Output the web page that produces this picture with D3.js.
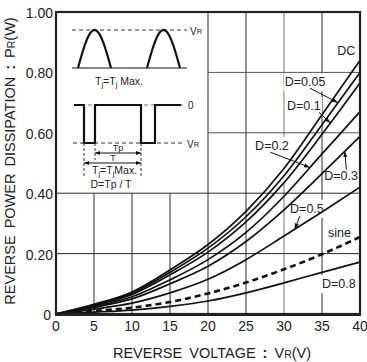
<!DOCTYPE html>
<html>
<head>
<meta charset="utf-8">
<script src="https://cdn.jsdelivr.net/npm/d3@7"></script>
<style>
  html, body { margin: 0; padding: 0; background: #fff; }
  svg { display: block; font-family: "Liberation Sans", Arial, Helvetica, sans-serif; }
</style>
</head>
<body>
<svg id="chart" width="367" height="362"></svg>
<script>
// Reverse voltage samples (V)
const voltages = [0, 5, 10, 15, 20, 25, 30, 35, 40];

// Reverse power dissipation PR (W) for each waveform
const pDC   = [0, 0.032, 0.073, 0.146, 0.230, 0.340, 0.482, 0.660, 0.840];
const pD005 = [0, 0.030, 0.069, 0.138, 0.218, 0.322, 0.458, 0.627, 0.800];
const pD01  = [0, 0.028, 0.065, 0.130, 0.205, 0.305, 0.435, 0.595, 0.765];
const pD02  = [0, 0.025, 0.057, 0.113, 0.180, 0.270, 0.390, 0.530, 0.670];
const pD03  = [0, 0.022, 0.050, 0.100, 0.158, 0.240, 0.345, 0.465, 0.588];
const pD05  = [0, 0.016, 0.036, 0.070, 0.115, 0.180, 0.258, 0.338, 0.420];
const pSine = [0, 0.010, 0.021, 0.040, 0.068, 0.104, 0.148, 0.198, 0.255];
const pD08  = [0, 0.006, 0.013, 0.025, 0.043, 0.070, 0.103, 0.138, 0.172];

const seriesNames  = ["DC", "D=0.05", "D=0.1", "D=0.2", "D=0.3", "D=0.5", "sine", "D=0.8"];
const seriesValues = [pDC, pD005, pD01, pD02, pD03, pD05, pSine, pD08];

// Axis ticks
const xTicks = [0, 5, 10, 15, 20, 25, 30, 35, 40];
const yTicks = [0, 0.2, 0.4, 0.6, 0.8, 1.0];
const yTickLabels = ["0", "0.20", "0.40", "0.60", "0.80", "1.00"];

// Curve labels: label anchor (V, W) and optional leader arrow ending on the curve at voltage "to"
const curveLabels = [
  { name: "DC",     v: 37.0, p: 0.871 },
  { name: "D=0.05", v: 30.1, p: 0.768, from: [33.4, 0.748], to: 37.1 },
  { name: "D=0.1",  v: 30.4, p: 0.689, from: [34.6, 0.668], to: 36.1 },
  { name: "D=0.2",  v: 26.2, p: 0.556, from: [28.2, 0.536], to: 33.4 },
  { name: "D=0.3",  v: 35.3, p: 0.457, from: [38.2, 0.478], to: 38.0 },
  { name: "D=0.5",  v: 30.8, p: 0.348, from: [32.1, 0.325], to: 31.4 },
  { name: "sine",   v: 35.8, p: 0.268 },
  { name: "D=0.8",  v: 35.0, p: 0.099 }
];

// Region kept clear of grid lines for the waveform sketch
const sketchVmax = 20, sketchPmin = 0.4;
// Breaks in vertical grid lines (voltage, from W, to W)
const gridBreaks = [{ v: 30, lo: 0.435, hi: 0.585 }];

const svg = d3.select("#chart");
const x = d3.scaleLinear().domain([0, 40]).range([56, 360]);
const y = d3.scaleLinear().domain([0, 1]).range([314, 12]);

// Grid
const grid = svg.append("g").attr("stroke-width", 1).attr("fill", "none");
xTicks.filter(v => v > 0 && v < 40).forEach(v => {
  const top = v < sketchVmax ? sketchPmin : 1;
  const brk = gridBreaks.find(b => b.v === v);
  const spans = brk ? [[0, brk.lo], [brk.hi, top]] : [[0, top]];
  spans.forEach(([a, b]) => {
    grid.append("line")
      .attr("x1", x(v)).attr("x2", x(v))
      .attr("y1", y(a)).attr("y2", y(b))
      .attr("stroke", v === 30 ? "#777" : "#2a2a2a");
  });
});
yTicks.filter(p => p > 0 && p < 1).forEach(p => {
  grid.append("line")
    .attr("x1", x(p > sketchPmin ? sketchVmax : 0)).attr("x2", x(40))
    .attr("y1", y(p)).attr("y2", y(p))
    .attr("stroke", p > sketchPmin ? "#555" : "#2a2a2a");
});

// Curve labels (white backing hides grid lines behind the text)
const labelG = svg.append("g").attr("font-size", 12.5).attr("fill", "#222");
const labelNodes = curveLabels.map(d => labelG.append("text")
  .attr("x", x(d.v)).attr("y", y(d.p))
  .attr("dominant-baseline", "central")
  .text(d.name));
labelNodes.forEach(t => {
  const b = t.node().getBBox();
  labelG.insert("rect", "text")
    .attr("x", b.x - 1).attr("y", b.y - 2)
    .attr("width", b.width + 2).attr("height", b.height + 4)
    .attr("fill", "#fff");
});

// Curves
const line = d3.line()
  .x((d, i) => x(voltages[i]))
  .y(d => y(d))
  .curve(d3.curveMonotoneX);

const curveG = svg.append("g").attr("fill", "none").attr("stroke", "#111");
seriesValues.forEach((vals, k) => {
  const isSine = seriesNames[k] === "sine";
  curveG.append("path")
    .attr("d", line(vals))
    .attr("stroke-width", isSine ? 2.6 : 1.7)
    .attr("stroke-dasharray", isSine ? "6,4" : null);
});

// Leader arrows
const defs = svg.append("defs");
defs.append("marker")
  .attr("id", "head").attr("viewBox", "0 0 10 10")
  .attr("refX", 10).attr("refY", 5)
  .attr("markerWidth", 6).attr("markerHeight", 6)
  .attr("orient", "auto")
  .append("path").attr("d", "M0,1.5 L10,5 L0,8.5 Z").attr("fill", "#111");

function valueAt(vals, v) {
  const i = Math.min(voltages.length - 2, Math.floor(v / 5));
  const t = (v - voltages[i]) / 5;
  return vals[i] + (vals[i + 1] - vals[i]) * t;
}
curveLabels.filter(d => d.from).forEach(d => {
  const vals = seriesValues[seriesNames.indexOf(d.name)];
  svg.append("line")
    .attr("x1", x(d.from[0])).attr("y1", y(d.from[1]))
    .attr("x2", x(d.to)).attr("y2", y(valueAt(vals, d.to)))
    .attr("stroke", "#111").attr("stroke-width", 1)
    .attr("marker-end", "url(#head)");
});

// Frame
const frame = svg.append("g").attr("stroke", "#222").attr("fill", "none");
frame.append("rect").attr("x", x(0)).attr("y", y(1))
  .attr("width", x(40) - x(0)).attr("height", y(0) - y(1))
  .attr("stroke-width", 2.2);
frame.append("line").attr("x1", x(0) - 1).attr("x2", x(40) + 1)
  .attr("y1", y(0) + 0.5).attr("y2", y(0) + 0.5).attr("stroke-width", 3);

// Tick labels
const tickG = svg.append("g").attr("font-size", 14).attr("fill", "#222");
tickG.selectAll("text.xt").data(xTicks).join("text")
  .attr("x", d => x(d)).attr("y", y(0) + 17)
  .attr("text-anchor", "middle")
  .text(d => d);
tickG.selectAll("text.yt").data(yTicks).join("text")
  .attr("x", (d, i) => i === 0 ? 51 : 53).attr("y", d => y(d) + 1)
  .attr("text-anchor", "end").attr("dominant-baseline", "central")
  .text((d, i) => yTickLabels[i]);

// Axis titles
const xt = svg.append("text").attr("x", 212).attr("y", 358)
  .attr("text-anchor", "middle").attr("font-size", 14.5).attr("fill", "#222")
  .attr("word-spacing", 3);
xt.append("tspan").text("REVERSE VOLTAGE ");
xt.append("tspan").attr("font-weight", "bold").text(":");
xt.append("tspan").text(" V");
xt.append("tspan").attr("font-size", 10.5).text("R");
xt.append("tspan").text("(V)");

const yt = svg.append("text")
  .attr("transform", "translate(15,161) rotate(-90)")
  .attr("text-anchor", "middle").attr("font-size", 14.5).attr("fill", "#222")
  .attr("word-spacing", 3);
yt.append("tspan").text("REVERSE POWER DISSIPATION ");
yt.append("tspan").attr("font-weight", "bold").text(":");
yt.append("tspan").text(" P");
yt.append("tspan").attr("font-size", 10.5).text("R");
yt.append("tspan").text("(W)");

// Waveform sketch (top-left corner of the plot)
const sk = svg.append("g").attr("fill", "none").attr("stroke", "#111");
const dash = "4,3";
// half-sine pulses
sk.append("line").attr("x1", 72).attr("x2", 187).attr("y1", 30).attr("y2", 30)
  .attr("stroke-width", 1).attr("stroke-dasharray", dash).attr("stroke", "#333");
sk.append("line").attr("x1", 72).attr("x2", 187).attr("y1", 68).attr("y2", 68)
  .attr("stroke-width", 1.2);
[78, 147].forEach(x0 => {
  const pts = d3.range(0, 1.0001, 0.05).map(t => [x0 + 33 * t, 68 - 38 * Math.sin(Math.PI * t)]);
  sk.append("path").attr("d", d3.line()(pts)).attr("stroke-width", 2.2);
});
// rectangular pulses
sk.append("line").attr("x1", 74).attr("x2", 184).attr("y1", 105).attr("y2", 105)
  .attr("stroke-width", 1).attr("stroke-dasharray", dash).attr("stroke", "#777");
sk.append("line").attr("x1", 73).attr("x2", 184).attr("y1", 143).attr("y2", 143)
  .attr("stroke-width", 1).attr("stroke-dasharray", dash).attr("stroke", "#333");
sk.append("path").attr("d", "M74,105 H84 V143 H95 V105 H141 V143 H155 V105 H181")
  .attr("stroke-width", 2.2);
[[84, 176], [141, 176], [95, 160]].forEach(([xx, yy]) => {
  sk.append("line").attr("x1", xx).attr("x2", xx).attr("y1", 143).attr("y2", yy)
    .attr("stroke-width", 1).attr("stroke-dasharray", "3,2").attr("stroke", "#333");
});
// Tp and T spans
defs.append("marker")
  .attr("id", "tip").attr("viewBox", "0 0 10 10")
  .attr("refX", 10).attr("refY", 5)
  .attr("markerWidth", 5).attr("markerHeight", 5)
  .attr("orient", "auto-start-reverse")
  .append("path").attr("d", "M0,1 L10,5 L0,9 Z").attr("fill", "#111");
[[95, 141, 153], [84, 141, 163]].forEach(([a, b, yy]) => {
  sk.append("line").attr("x1", a).attr("x2", b).attr("y1", yy).attr("y2", yy)
    .attr("stroke-width", 1)
    .attr("marker-start", "url(#tip)").attr("marker-end", "url(#tip)");
});

const skText = svg.append("g").attr("fill", "#222");
// V_R markers
[[190, 31], [187, 144]].forEach(([xx, yy]) => {
  const t = skText.append("text").attr("x", xx).attr("y", yy).attr("font-size", 10)
    .attr("dominant-baseline", "central");
  t.append("tspan").text("V");
  t.append("tspan").attr("font-size", 7.5).text("R");
});
skText.append("text").attr("x", 188).attr("y", 105).attr("font-size", 10)
  .attr("dominant-baseline", "central").text("0");

function tjLine(xx, yy, spaced) {
  const t = skText.append("text").attr("x", xx).attr("y", yy).attr("font-size", 10.5);
  t.append("tspan").text("T");
  t.append("tspan").attr("font-size", 7.5).attr("dy", 2).text("j");
  t.append("tspan").attr("dy", -2).text("=T");
  t.append("tspan").attr("font-size", 7.5).attr("dy", 2).text("j");
  t.append("tspan").attr("dy", -2).text(spaced ? " Max." : "Max.");
}
tjLine(95, 85, true);
tjLine(92, 174, false);

skText.append("text").attr("x", 118).attr("y", 151).attr("font-size", 9)
  .attr("text-anchor", "middle").text("Tp");
skText.append("text").attr("x", 113).attr("y", 161).attr("font-size", 9)
  .attr("text-anchor", "middle").text("T");
skText.append("text").attr("x", 111).attr("y", 188).attr("font-size", 10.5)
  .attr("text-anchor", "middle").text("D=Tp / T");
</script>
</body>
</html>
